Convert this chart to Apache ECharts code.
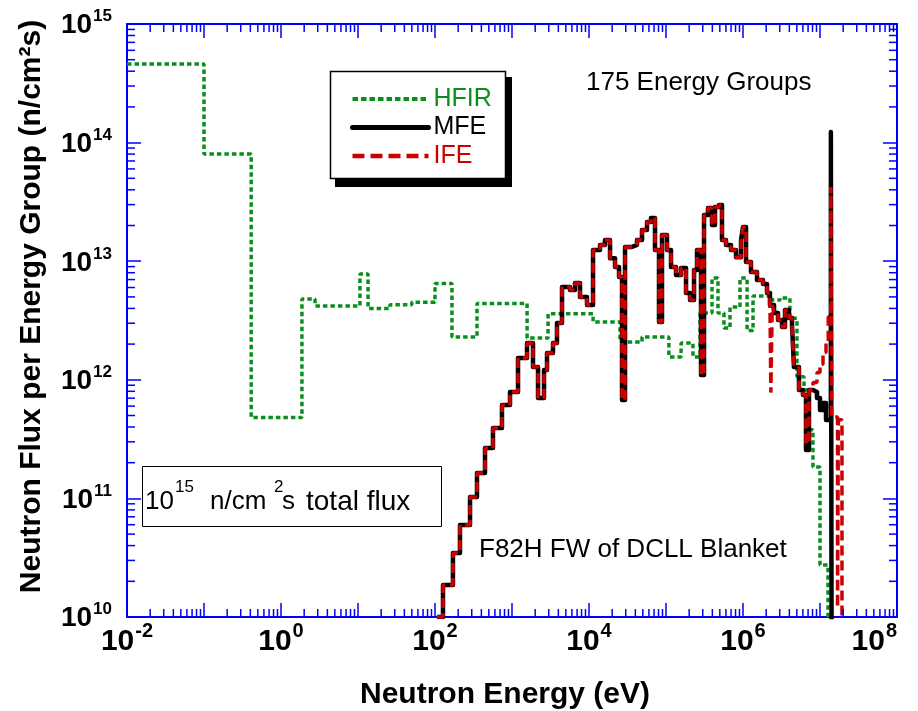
<!DOCTYPE html>
<html>
<head>
<meta charset="utf-8">
<script src="https://cdn.jsdelivr.net/npm/echarts@6.0.0/dist/echarts.min.js"></script>
<style>
  html, body { margin: 0; padding: 0; background: #fff; }
  #chart { width: 918px; height: 711px; }
</style>
</head>
<body>
<div id="chart"></div>
<script>
// group lower edges (eV); last entry closes the final group
var hfirEnergy = [1e-2, 0.1, 0.41, 1.87, 2.77, 10.6, 13.5, 26, 50, 100, 166, 351, 1570, 2940, 11300,
  25300, 48800, 109000, 157000, 224000, 277000, 396000, 473000, 566000, 678000, 914000,
  1.13e6, 1.35e6, 2.38e6, 3.03e6, 4.07e6, 5.02e6, 6.2e6, 7.2e6, 8.1e6, 1.0e7, 1.27e7, 1.6e7];
var hfirFlux = [4.6e14, 8.0e13, 4.8e11, 4.8e12, 4.2e12, 7.8e12, 4.0e12, 4.3e12, 4.5e12, 6.5e12,
  2.3e12, 4.4e12, 2.25e12, 3.6e12, 3.07e12, 2.08e12, 2.3e12, 1.56e12, 2.04e12, 1.56e12,
  3.66e12, 7.2e12, 3.66e12, 2.73e12, 4.1e12, 7.2e12, 2.6e12, 5.1e12, 4.7e12, 4.9e12,
  3.3e12, 1.06e12, 8.2e11, 3.8e11, 1.84e11, 2.74e10, 1e9];

var mfeEnergy = [106, 127, 171, 211, 285, 351, 446, 566, 741, 942, 1197, 1567, 1874, 2178, 2604,
  2849, 3405, 3838, 4460, 5663, 6577, 7640, 9419, 11280, 13900, 16140, 18750, 21780, 24550,
  26850, 29370, 36140, 41980, 48770, 56640, 63830, 71940, 81090, 88700, 103000, 116100,
  134900, 156700, 182000, 205100, 231200, 252900, 285000, 311700, 351000, 395600, 432600,
  487500, 533300, 601000, 698000, 811000, 942000, 1.0e6, 1.094e6, 1.27e6, 1.52e6, 1.82e6,
  2.05e6, 2.24e6, 2.53e6, 2.85e6, 3.21e6, 3.51e6, 3.95e6, 4.33e6, 4.59e6, 5.33e6, 6.01e6,
  6.58e6, 7.19e6, 8.11e6, 9.14e6, 1.0e7, 1.094e7, 1.197e7, 1.384e7, 1.419e7, 1.6e7];
var mfeFlux = [1.0e10, 1.86e10, 3.47e10, 5.97e10, 1.03e11, 1.64e11, 2.66e11, 3.92e11, 6.13e11,
  7.89e11, 1.53e12, 2.04e12, 1.28e12, 7.03e11, 1.21e12, 1.68e12, 2.04e12, 3.01e12, 6.06e12,
  5.72e12, 6.55e12, 4.99e12, 4.27e12, 1.24e13, 1.37e13, 1.51e13, 1.06e13, 8.94e12, 7.36e12,
  6.76e11, 1.32e13, 1.37e13, 1.51e13, 1.83e13, 2.14e13, 2.31e13, 1.24e13, 3.07e12, 1.66e13,
  1.24e13, 8.94e12, 7.65e12, 8.77e12, 5.39e12, 4.71e12, 8.43e12, 1.24e13, 1.10e12, 2.45e13,
  2.81e13, 2.02e13, 2.86e13, 2.98e13, 1.51e13, 1.37e13, 1.24e13, 1.08e13, 1.51e13, 1.94e13,
  9.84e12, 8.11e12, 6.94e12, 6.42e12, 5.39e12, 4.27e12, 3.66e12, 3.19e12, 2.79e12, 3.88e12,
  3.32e12, 2.90e12, 1.28e12, 8.2e11, 7.45e11, 2.56e11, 8.2e11, 7.89e11, 7.03e11, 5.56e11,
  6.37e11, 4.58e11, 1.23e14, 1e9];

var ifeEnergy = [106, 127, 171, 211, 285, 351, 446, 566, 741, 942, 1197, 1567, 1874, 2178, 2604,
  2849, 3405, 3838, 4460, 5663, 6577, 7640, 9419, 11280, 13900, 16140, 18750, 21780, 24550,
  26850, 29370, 36140, 41980, 48770, 56640, 63830, 71940, 81090, 88700, 103000, 116100,
  134900, 156700, 182000, 205100, 231200, 252900, 285000, 311700, 351000, 395600, 432600,
  487500, 533300, 601000, 698000, 811000, 942000, 1.0e6, 1.094e6, 1.27e6, 1.52e6, 1.82e6,
  2.05e6, 2.24e6, 2.30e6, 2.40e6, 2.53e6, 2.85e6, 3.21e6, 3.51e6, 3.95e6, 4.33e6, 4.59e6,
  5.33e6, 6.01e6, 6.58e6, 7.19e6, 8.11e6, 9.14e6, 1.0e7, 1.094e7, 1.197e7, 1.28e7, 1.384e7,
  1.419e7, 1.69e7, 1.73e7, 1.93e7, 2.1e7];
var ifeFlux = [1.0e10, 1.86e10, 3.47e10, 5.97e10, 1.03e11, 1.64e11, 2.66e11, 3.92e11, 6.13e11,
  7.89e11, 1.53e12, 2.04e12, 1.28e12, 7.03e11, 1.21e12, 1.68e12, 2.04e12, 3.01e12, 6.06e12,
  5.72e12, 6.55e12, 4.99e12, 4.27e12, 1.24e13, 1.37e13, 1.51e13, 1.06e13, 8.94e12, 7.36e12,
  6.76e11, 1.32e13, 1.37e13, 1.51e13, 1.83e13, 2.14e13, 2.31e13, 1.24e13, 3.07e12, 1.66e13,
  1.24e13, 8.94e12, 7.65e12, 8.77e12, 5.39e12, 4.71e12, 8.43e12, 1.24e13, 1.10e12, 2.45e13,
  2.81e13, 2.02e13, 2.86e13, 2.98e13, 1.51e13, 1.37e13, 1.24e13, 1.08e13, 1.51e13, 1.94e13,
  9.84e12, 8.11e12, 6.94e12, 6.42e12, 5.39e12, 4.27e12, 7.8e11, 4.27e12, 3.66e12, 3.19e12,
  2.79e12, 3.88e12, 3.32e12, 2.90e12, 1.28e12, 8.2e11, 7.45e11, 2.9e11, 8.2e11, 9.5e11,
  1.15e12, 1.35e12, 1.7e12, 2.2e12, 3.4e12, 4.22e13, 4.85e11, 1.2e10, 4.6e11, 1e9];

var seriesNames = ['HFIR', 'MFE', 'IFE'];
var minorFactors = [2, 3, 4, 5, 6, 7, 8, 9];

var green = '#0a8f1e';
var red = '#cc0000';
var axisBlue = '#0000ff';
var font = "'Liberation Sans', Arial, sans-serif";

function stepData(edges, vals) {
  var d = vals.map(function (v, i) { return [edges[i], v]; });
  d.push([edges[vals.length], vals[vals.length - 1]]);
  return d;
}

var minorTicks = [];
for (var ex = -2; ex < 8; ex++) {
  minorFactors.forEach(function (f) { minorTicks.push([f * Math.pow(10, ex), 1e12, 0]); });
}
for (var ey = 10; ey < 15; ey++) {
  minorFactors.forEach(function (f) { minorTicks.push([1, f * Math.pow(10, ey), 1]); });
}

function renderMinorTick(params, api) {
  var cs = params.coordSys;
  var pt = api.coord([api.value(0), api.value(1)]);
  var len = 8;
  var st = { stroke: axisBlue, lineWidth: 1.5 };
  if (api.value(2) === 0) {
    return { type: 'group', children: [
      { type: 'line', shape: { x1: pt[0], y1: cs.y + cs.height, x2: pt[0], y2: cs.y + cs.height - len }, style: st },
      { type: 'line', shape: { x1: pt[0], y1: cs.y, x2: pt[0], y2: cs.y + len }, style: st }
    ] };
  }
  return { type: 'group', children: [
    { type: 'line', shape: { x1: cs.x, y1: pt[1], x2: cs.x + len, y2: pt[1] }, style: st },
    { type: 'line', shape: { x1: cs.x + cs.width, y1: pt[1], x2: cs.x + cs.width - len, y2: pt[1] }, style: st }
  ] };
}

function expOf(v) { return Math.round(Math.log10(v)); }

var axisCommon = {
  type: 'log', logBase: 10, interval: 1,
  axisLine: { show: true, lineStyle: { color: axisBlue, width: 2 } },
  axisTick: { show: true, inside: true, length: 14, lineStyle: { color: axisBlue, width: 1.5 } },
  splitLine: { show: false }
};

var chart = echarts.init(document.getElementById('chart'));
chart.setOption({
  animation: false,
  backgroundColor: '#fff',
  grid: { left: 127, right: 21, top: 24, bottom: 94, outerBoundsMode: 'none' },
  xAxis: [
    Object.assign({}, axisCommon, {
      min: 1e-2, max: 1e8, position: 'bottom',
      name: 'Neutron Energy (eV)', nameLocation: 'middle', nameGap: 63,
      nameTextStyle: { fontFamily: font, fontSize: 30, fontWeight: 'bold', color: '#000', padding: [0, 14, 0, 0] },
      axisLabel: {
        margin: 7,
        alignMaxLabel: 'right',
        formatter: function (v) {
          var e = expOf(v);
          return e % 2 === 0 ? '{b|10}{s|' + e + '}' : '';
        },
        rich: {
          // equal token heights, so the superscript is raised by its bottom padding
          b: { fontFamily: font, fontSize: 30, fontWeight: 'bold', color: '#000', lineHeight: 30, padding: [5, 0, 0, 0] },
          s: { fontFamily: font, fontSize: 20, fontWeight: 'bold', color: '#000', lineHeight: 20, padding: [0, 0, 15, 1] }
        }
      }
    }),
    Object.assign({}, axisCommon, { min: 1e-2, max: 1e8, position: 'top', axisLabel: { show: false } })
  ],
  yAxis: [
    Object.assign({}, axisCommon, {
      min: 1e10, max: 1e15, position: 'left',
      name: 'Neutron Flux per Energy Group (n/cm\u00b2s)', nameLocation: 'middle', nameGap: 80,
      nameTextStyle: { fontFamily: font, fontSize: 30, fontWeight: 'bold', color: '#000', padding: [0, 0, 0, 28] },
      axisLabel: {
        margin: 15,
        formatter: function (v) { return '{b|10}{s|' + expOf(v) + '}'; },
        rich: {
          b: { fontFamily: font, fontSize: 28, fontWeight: 'bold', color: '#000', lineHeight: 28, padding: [3.5, 0, 0, 0] },
          s: { fontFamily: font, fontSize: 17, fontWeight: 'bold', color: '#000', lineHeight: 17, padding: [0, 0, 14.5, 1] }
        }
      }
    }),
    Object.assign({}, axisCommon, { min: 1e10, max: 1e15, position: 'right', axisLabel: { show: false } })
  ],
  legend: {
    orient: 'vertical', left: 345, top: 80, z: 5,
    itemWidth: 76, itemHeight: 14, itemGap: 0.5,
    selectedMode: false,
    itemStyle: { opacity: 0 },
    textStyle: { fontFamily: font, fontSize: 25, lineHeight: 28 },
    data: [
      { name: seriesNames[0], textStyle: { color: green }, lineStyle: { width: 4, type: [5.5, 3] } },
      { name: seriesNames[1], textStyle: { color: '#000' }, lineStyle: { width: 5, cap: 'round' } },
      { name: seriesNames[2], textStyle: { color: red }, lineStyle: { width: 4.5, type: [12, 6] } }
    ]
  },
  graphic: [
    { type: 'rect', z: 3, shape: { x: 335, y: 77, width: 177, height: 110 }, style: { fill: '#000' } },
    { type: 'rect', z: 3, shape: { x: 330.5, y: 71.5, width: 175, height: 107 }, style: { fill: '#fff', stroke: '#000', lineWidth: 1.5 } },
    { type: 'rect', z: 3, shape: { x: 142.5, y: 466.5, width: 299, height: 60 }, style: { fill: '#fff', stroke: '#000', lineWidth: 1 } },
    { type: 'text', z: 4, x: 145, y: 502, style: { text: '10', fontFamily: font, fontSize: 26, fill: '#000', verticalAlign: 'middle' } },
    { type: 'text', z: 4, x: 175, y: 487, style: { text: '15', fontFamily: font, fontSize: 17, fill: '#000', verticalAlign: 'middle' } },
    { type: 'text', z: 4, x: 210, y: 502, style: { text: 'n/cm', fontFamily: font, fontSize: 26, fill: '#000', verticalAlign: 'middle' } },
    { type: 'text', z: 4, x: 274, y: 487, style: { text: '2', fontFamily: font, fontSize: 17, fill: '#000', verticalAlign: 'middle' } },
    { type: 'text', z: 4, x: 282, y: 502, style: { text: 's', fontFamily: font, fontSize: 26, fill: '#000', verticalAlign: 'middle' } },
    { type: 'text', z: 4, x: 306, y: 502, style: { text: 'total flux', fontFamily: font, fontSize: 28, fill: '#000', verticalAlign: 'middle' } },
    { type: 'text', z: 4, x: 586, y: 83, style: { text: '175 Energy Groups', fontFamily: font, fontSize: 26, fill: '#000', verticalAlign: 'middle' } },
    { type: 'text', z: 4, x: 479, y: 550, style: { text: 'F82H FW of DCLL Blanket', fontFamily: font, fontSize: 26, fill: '#000', verticalAlign: 'middle' } }
  ],
  series: [
    {
      name: seriesNames[0], type: 'line', step: 'end', symbol: 'none', z: 2, silent: true,
      data: stepData(hfirEnergy, hfirFlux), color: green,
      lineStyle: { color: green, width: 3.5, type: [4.5, 3] }
    },
    {
      name: seriesNames[1], type: 'line', step: 'end', symbol: 'none', z: 3, silent: true,
      data: stepData(mfeEnergy, mfeFlux), color: '#000',
      lineStyle: { color: '#000', width: 4.5, join: 'round' }
    },
    {
      name: seriesNames[2], type: 'line', step: 'end', symbol: 'none', z: 4, silent: true,
      data: stepData(ifeEnergy, ifeFlux), color: red,
      lineStyle: { color: red, width: 3.5, type: [10, 5] }
    },
    {
      type: 'custom', silent: true, z: 6, data: minorTicks,
      encode: { x: 0, y: 1 }, renderItem: renderMinorTick
    }
  ]
});
</script>
</body>
</html>
